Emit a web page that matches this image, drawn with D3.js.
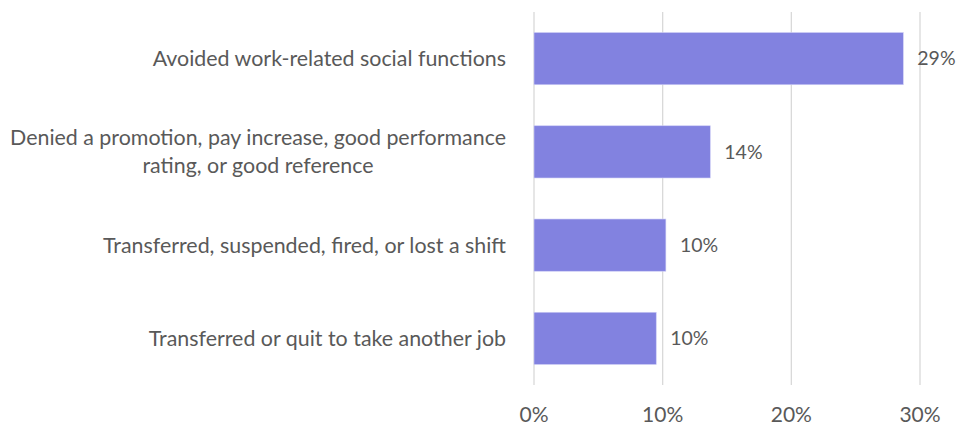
<!DOCTYPE html>
<html>
<head>
<meta charset="utf-8">
<script src="https://cdn.jsdelivr.net/npm/d3@7"></script>
<style>
  body { margin: 0; background: #fff; }
  text { font-family: Lato, "Noto Sans", sans-serif; fill: #595959; }
</style>
</head>
<body>
<svg id="chart" width="956" height="427"></svg>
<script>
const categories = [
  ["Avoided work-related social functions"],
  ["Denied a promotion, pay increase, good performance", "rating, or good reference"],
  ["Transferred, suspended, fired, or lost a shift"],
  ["Transferred or quit to take another job"]
];
const values = [28.7, 13.7, 10.25, 9.5];
const valueLabels = ["29%", "14%", "10%", "10%"];
const ticks = [0, 10, 20, 30];

const svg = d3.select('#chart');
const margin = { top: 12, right: 36, bottom: 42, left: 534 };
const width = +svg.attr('width');
const height = +svg.attr('height');

const x = d3.scaleLinear()
  .domain([0, 30])
  .range([margin.left, width - margin.right]);

const y = d3.scaleBand()
  .domain(d3.range(categories.length))
  .range([margin.top, height - margin.bottom])
  .paddingInner(0.44)
  .paddingOuter(0.22);

// gridlines
svg.append('g')
  .selectAll('line')
  .data(ticks)
  .join('line')
    .attr('x1', d => x(d))
    .attr('x2', d => x(d))
    .attr('y1', margin.top)
    .attr('y2', height - margin.bottom)
    .attr('stroke', '#d9d9d9')
    .attr('stroke-width', 1.3);

// tick labels
svg.append('g')
  .selectAll('text')
  .data(ticks)
  .join('text')
    .attr('x', d => x(d))
    .attr('y', 422)
    .attr('text-anchor', 'middle')
    .style('font-size', '21px')
    .text(d => d + '%');

// bars
svg.append('g')
  .selectAll('rect')
  .data(values)
  .join('rect')
    .attr('x', x(0))
    .attr('y', (d, i) => y(i))
    .attr('width', d => x(d) - x(0))
    .attr('height', y.bandwidth())
    .attr('fill', '#8282e0')
    .attr('stroke', '#cfcff5')
    .attr('stroke-width', 0.6);

// value labels
svg.append('g')
  .selectAll('text')
  .data(values)
  .join('text')
    .attr('x', d => x(d) + 14)
    .attr('y', (d, i) => y(i) + y.bandwidth() / 2)
    .attr('dy', '0.35em')
    .style('font-size', '19.5px')
    .text((d, i) => valueLabels[i]);

// category labels
const labelRight = 506;
const lineHeight = 28;
const fs = 21.4;
const catG = svg.append('g');
categories.forEach((lines, i) => {
  const t = catG.append('text')
    .style('font-size', fs + 'px')
    .attr('y', y(i) + y.bandwidth() / 2);
  lines.forEach((line, j) => {
    t.append('tspan')
      .attr('dy', j === 0 ? (0.35 - (lines.length - 1) * lineHeight / 2 / fs) + 'em' : lineHeight)
      .text(line);
  });
  const spans = t.selectAll('tspan').nodes();
  const maxW = d3.max(spans, n => n.getComputedTextLength());
  t.attr('text-anchor', 'middle');
  t.selectAll('tspan').attr('x', labelRight - maxW / 2);
});
</script>
</body>
</html>
